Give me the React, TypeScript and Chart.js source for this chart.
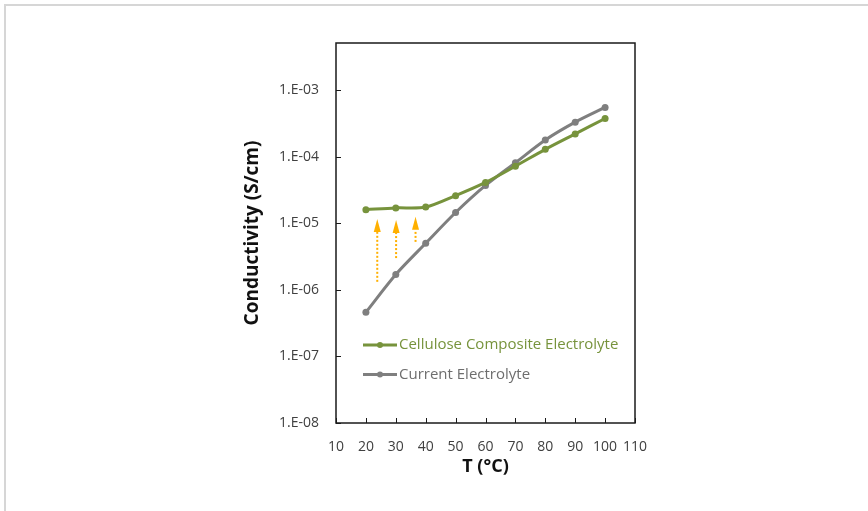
import React, { useEffect, useRef } from "react";
import { Chart, registerables } from "chart.js";

Chart.register(...registerables);

const temperatures = [20, 30, 40, 50, 60, 70, 80, 90, 100];
const celluloseValues = [1.6e-5, 1.7e-5, 1.75e-5, 2.6e-5, 4.1e-5, 7.2e-5, 1.29e-4, 2.2e-4, 3.75e-4];
const currentValues = [4.6e-7, 1.7e-6, 5.0e-6, 1.45e-5, 3.7e-5, 8.1e-5, 1.78e-4, 3.3e-4, 5.5e-4];
const seriesLabels = ["Cellulose Composite Electrolyte", "Current Electrolyte"];
const yTickExponents = [-8, -7, -6, -5, -4, -3];
const arrowX = [23.8, 30.1, 36.6];
const arrowFrom = [1.32e-6, 3.0e-6, 5.25e-6];
const arrowTo = [1.16e-5, 1.12e-5, 1.25e-5];

const GREEN = "#77933C";
const GRAY = "#7F7F7F";
const ORANGE = "#FFB000";
const FONT = "'Open Sans', sans-serif";

const decorPlugin = {
  id: "decor",
  afterDatasetsDraw(chart: any) {
    const { ctx, chartArea: a, scales } = chart;
    const xs = scales.x;
    const ys = scales.y;
    ctx.save();
    ctx.strokeStyle = ORANGE;
    ctx.fillStyle = ORANGE;
    for (let i = 0; i < arrowX.length; i++) {
      const px = xs.getPixelForValue(arrowX[i]);
      const y0 = ys.getPixelForValue(arrowFrom[i]);
      const y1 = ys.getPixelForValue(arrowTo[i]);
      const head = 13;
      ctx.lineWidth = 2;
      ctx.setLineDash([2, 2]);
      ctx.beginPath();
      ctx.moveTo(px, y0);
      ctx.lineTo(px, y1 + head);
      ctx.stroke();
      ctx.setLineDash([]);
      ctx.beginPath();
      ctx.moveTo(px, y1);
      ctx.lineTo(px - 3.5, y1 + head);
      ctx.lineTo(px + 3.5, y1 + head);
      ctx.closePath();
      ctx.fill();
    }
    const colors = [GREEN, GRAY];
    const textColors = [GREEN, "#6E6E6E"];
    const lx0 = a.left + 27;
    const lx1 = a.left + 61;
    const ly = [a.top + 302, a.top + 331.5];
    ctx.font = `15px ${FONT}`;
    ctx.textBaseline = "middle";
    for (let i = 0; i < 2; i++) {
      ctx.strokeStyle = colors[i];
      ctx.lineWidth = 3;
      ctx.beginPath();
      ctx.moveTo(lx0, ly[i]);
      ctx.lineTo(lx1, ly[i]);
      ctx.stroke();
      ctx.fillStyle = colors[i];
      ctx.beginPath();
      ctx.arc((lx0 + lx1) / 2, ly[i], 3, 0, Math.PI * 2);
      ctx.fill();
      ctx.fillStyle = textColors[i];
      ctx.fillText(seriesLabels[i], lx1 + 2, ly[i]);
    }
    ctx.restore();
  },
  afterDraw(chart: any) {
    const { ctx, chartArea: a, scales } = chart;
    ctx.save();
    ctx.strokeStyle = "#1a1a1a";
    ctx.lineWidth = 1.5;
    ctx.strokeRect(a.left, a.top, a.right - a.left, a.bottom - a.top);
    ctx.lineWidth = 1;
    ctx.beginPath();
    for (const t of scales.x.ticks) {
      const px = Math.round(scales.x.getPixelForValue(t.value)) + 0.5;
      ctx.moveTo(px, a.bottom);
      ctx.lineTo(px, a.bottom - 5);
    }
    for (const t of scales.y.ticks) {
      const py = Math.round(scales.y.getPixelForValue(t.value)) + 0.5;
      ctx.moveTo(a.left, py);
      ctx.lineTo(a.left + 5, py);
    }
    ctx.stroke();
    ctx.restore();
  },
};

export default function App() {
  const ref = useRef<HTMLCanvasElement | null>(null);
  useEffect(() => {
    if (!ref.current) return;
    const chart = new Chart(ref.current, {
      type: "line",
      data: {
        datasets: [
          {
            label: seriesLabels[0],
            data: temperatures.map((t, i) => ({ x: t, y: celluloseValues[i] })),
            borderColor: GREEN,
            backgroundColor: GREEN,
            borderWidth: 3,
            pointRadius: 3.5,
            pointBorderWidth: 0,
            tension: 0.3,
          },
          {
            label: seriesLabels[1],
            data: temperatures.map((t, i) => ({ x: t, y: currentValues[i] })),
            borderColor: GRAY,
            backgroundColor: GRAY,
            borderWidth: 3,
            pointRadius: 3.5,
            pointBorderWidth: 0,
            tension: 0.3,
          },
        ],
      },
      options: {
        animation: false,
        responsive: false,
        layout: { padding: { left: 230, top: 43, right: 233, bottom: 33 } },
        plugins: { legend: { display: false }, tooltip: { enabled: false } },
        scales: {
          x: {
            type: "linear",
            min: 10,
            max: 110,
            grid: { display: false, drawTicks: false },
            border: { display: false },
            ticks: { stepSize: 10, padding: 16, color: "#404040", font: { family: FONT, size: 14 }, maxRotation: 0 },
            title: { display: true, text: "T (°C)", color: "#111", font: { family: FONT, size: 18, weight: "bold" }, padding: { top: 0, bottom: 0 } },
            afterFit(s: any) { s.height = 55; },
          },
          y: {
            type: "logarithmic",
            min: 1e-8,
            max: 5.1e-3,
            grid: { display: false, drawTicks: false },
            border: { display: false },
            afterBuildTicks(s: any) {
              s.ticks = yTickExponents.map((e) => ({ value: Math.pow(10, e) }));
            },
            ticks: {
              padding: 17,
              color: "#404040",
              font: { family: FONT, size: 14 },
              callback: (v: any) => {
                const e = Math.round(Math.log10(Number(v)));
                return "1.E-" + String(-e).padStart(2, "0");
              },
            },
            title: { display: true, text: "Conductivity (S/cm)", color: "#111", font: { family: FONT, size: 19, weight: "bold" }, padding: { top: 11, bottom: 0 } },
            afterFit(s: any) { s.width = 106; },
          },
        },
      },
      plugins: [decorPlugin],
    });
    return () => chart.destroy();
  }, []);
  return (
    <div style={{ position: "fixed", left: 0, top: 0, width: 868, height: 511, background: "#fff" }}>
      <div style={{ position: "absolute", left: 4, top: 4, right: -10, bottom: -10, borderTop: "2px solid #d6d6d6", borderLeft: "2px solid #d6d6d6" }} />
      <canvas ref={ref} width={868} height={511} style={{ position: "absolute", left: 0, top: 0 }} />
    </div>
  );
}
